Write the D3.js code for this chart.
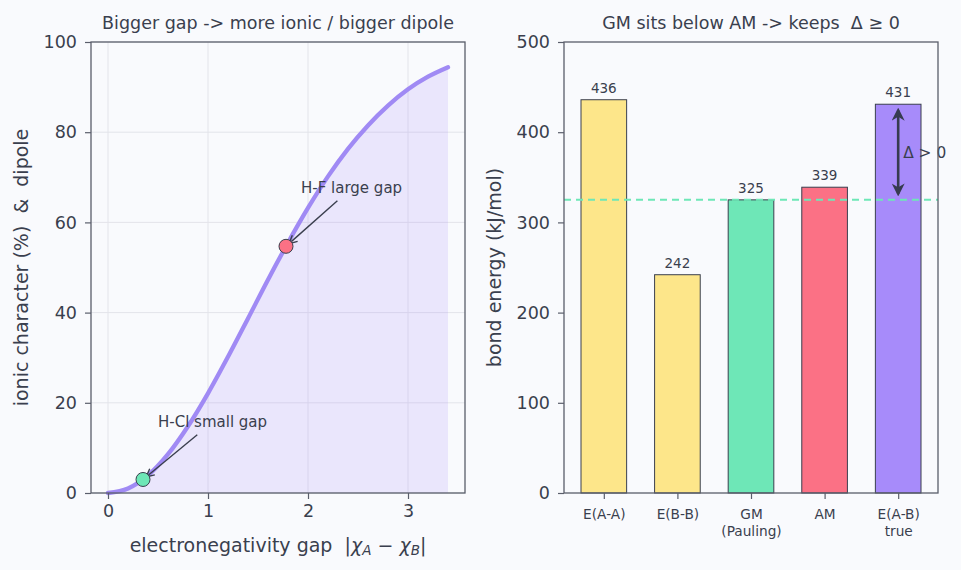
<!DOCTYPE html>
<html>
<head>
<meta charset="utf-8">
<script src="https://cdn.jsdelivr.net/npm/d3@7"></script>
<style>
  body { margin: 0; background: #f9fafd; }
  svg text { font-family: "DejaVu Sans", sans-serif; }
</style>
</head>
<body>
<div id="chart"></div>
<script>
// Left panel: ionic character curve
const gapX = [0, 0.2, 0.4, 0.6, 0.8, 1.0, 1.2, 1.4, 1.6, 1.8, 2.0, 2.2, 2.4, 2.6, 2.8, 3.0, 3.2, 3.4];
const ionicY = [0, 1.0, 3.9, 8.6, 14.8, 22.1, 30.2, 38.7, 47.3, 55.5, 63.2, 70.2, 76.3, 81.5, 85.9, 89.5, 92.3, 94.4];
const markers = [
  {name: 'H-Cl small gap', x: 0.35, y: 3.0, color: '#6ee7b7', tx: 0.5, ty: 15.8},
  {name: 'H-F large gap', x: 1.78, y: 54.7, color: '#fb7185', tx: 1.93, ty: 67.7}
];
const xTicksLeft = [0, 1, 2, 3];
const yTicksLeft = [0, 20, 40, 60, 80, 100];

// Right panel: bond energies
const barNames = ['E(A-A)', 'E(B-B)', 'GM\n(Pauling)', 'AM', 'E(A-B)\ntrue'];
const barValues = [436, 242, 325, 339, 431];
const barColors = ['#fde68a', '#fde68a', '#6ee7b7', '#fb7185', '#a78bfa'];
const gmLine = 325;
const yTicksRight = [0, 100, 200, 300, 400, 500];

const W = 961, H = 570;
const ink = '#3a3f4e', spine = '#5a5e6b';

const svg = d3.select('#chart').append('svg')
    .attr('width', W).attr('height', H);
svg.append('rect').attr('width', W).attr('height', H).attr('fill', '#f9fafd');

const defs = svg.append('defs');
defs.append('marker').attr('id', 'head')
    .attr('viewBox', '0 0 10 10').attr('refX', 9).attr('refY', 5)
    .attr('markerWidth', 10).attr('markerHeight', 10).attr('markerUnits', 'userSpaceOnUse')
    .attr('orient', 'auto-start-reverse')
  .append('path').attr('d', 'M1,1 L9,5 L1,9').attr('fill', 'none')
    .attr('stroke', ink).attr('stroke-width', 1.4);
defs.append('marker').attr('id', 'bighead')
    .attr('viewBox', '0 0 10 10').attr('refX', 8).attr('refY', 5)
    .attr('markerWidth', 13).attr('markerHeight', 13).attr('markerUnits', 'userSpaceOnUse')
    .attr('orient', 'auto-start-reverse')
  .append('path').attr('d', 'M0,0 L10,5 L0,10 L3,5 Z').attr('fill', '#363b50');

function styleAxis(g){
  g.selectAll('.domain').remove();
  g.selectAll('.tick line').attr('stroke', spine).attr('stroke-width', 1.2);
  g.selectAll('.tick text').attr('fill', ink).attr('font-size', 17.5);
}

// ---------- left panel ----------
const L = {left: 91, right: 465, top: 42, bottom: 493};
const x1 = d3.scaleLinear().domain([-0.17, 3.57]).range([L.left, L.right]);
const y1 = d3.scaleLinear().domain([0, 100]).range([L.bottom, L.top]);

const gl = svg.append('g');
// grid
gl.append('g').selectAll('line.vx').data(xTicksLeft).join('line')
    .attr('x1', d => x1(d)).attr('x2', d => x1(d)).attr('y1', L.top).attr('y2', L.bottom)
    .attr('stroke', '#e3e4ea').attr('stroke-width', 1);
gl.append('g').selectAll('line.hy').data(yTicksLeft).join('line')
    .attr('x1', L.left).attr('x2', L.right).attr('y1', d => y1(d)).attr('y2', d => y1(d))
    .attr('stroke', '#e3e4ea').attr('stroke-width', 1);

const pts = gapX.map((x, i) => [x, ionicY[i]]);
gl.append('path').datum(pts)
    .attr('d', d3.area().x(d => x1(d[0])).y0(y1(0)).y1(d => y1(d[1])).curve(d3.curveMonotoneX))
    .attr('fill', '#a78bfa').attr('fill-opacity', 0.18);
gl.append('path').datum(pts)
    .attr('d', d3.line().x(d => x1(d[0])).y(d => y1(d[1])).curve(d3.curveMonotoneX))
    .attr('fill', 'none').attr('stroke', '#a08af4').attr('stroke-width', 4.3).attr('stroke-linecap', 'round');

// annotations
markers.forEach(m => {
  const tx = x1(m.tx), ty = y1(m.ty);
  const t = gl.append('text').attr('x', tx).attr('y', ty + 5)
      .attr('fill', ink).attr('font-size', 15).text(m.name);
  const w = t.node().getComputedTextLength();
  const px = x1(m.x), py = y1(m.y);
  const sx = tx + w * 0.36, sy = ty + 13;
  const ang = Math.atan2(py - sy, px - sx);
  gl.append('line').attr('x1', sx).attr('y1', sy)
      .attr('x2', px - Math.cos(ang) * 4).attr('y2', py - Math.sin(ang) * 4)
      .attr('stroke', ink).attr('stroke-width', 1.4).attr('marker-end', 'url(#head)');
});
gl.selectAll('circle.pt').data(markers).join('circle')
    .attr('cx', d => x1(d.x)).attr('cy', d => y1(d.y)).attr('r', 7)
    .attr('fill', d => d.color).attr('stroke', '#3a3f4e').attr('stroke-width', 1);

// axes
gl.append('g').attr('transform', `translate(0,${L.bottom})`)
    .call(d3.axisBottom(x1).tickValues(xTicksLeft).tickSize(6).tickPadding(6).tickFormat(d3.format('d')))
    .call(styleAxis);
gl.append('g').attr('transform', `translate(${L.left},0)`)
    .call(d3.axisLeft(y1).tickValues(yTicksLeft).tickSize(6).tickPadding(8))
    .call(styleAxis);
gl.append('rect').attr('x', L.left).attr('y', L.top)
    .attr('width', L.right - L.left).attr('height', L.bottom - L.top)
    .attr('fill', 'none').attr('stroke', spine).attr('stroke-width', 1.3);

gl.append('text').attr('x', (L.left + L.right) / 2).attr('y', 29)
    .attr('text-anchor', 'middle').attr('fill', ink).attr('font-size', 17.5)
    .text('Bigger gap -> more ionic / bigger dipole');
const xl = gl.append('text').attr('x', (L.left + L.right) / 2).attr('y', 552)
    .attr('text-anchor', 'middle').attr('fill', ink).attr('font-size', 19)
    .attr('xml:space', 'preserve');
xl.append('tspan').text('electronegativity gap  |');
xl.append('tspan').attr('font-style', 'italic').text('χ');
xl.append('tspan').attr('font-style', 'italic').attr('font-size', 13.5).attr('dy', 3).text('A');
xl.append('tspan').attr('dy', -3).text(' − ');
xl.append('tspan').attr('font-style', 'italic').text('χ');
xl.append('tspan').attr('font-style', 'italic').attr('font-size', 13.5).attr('dy', 3).text('B');
xl.append('tspan').attr('dy', -3).text('|');
gl.append('text').attr('transform', `translate(28,${(L.top + L.bottom) / 2}) rotate(-90)`)
    .attr('text-anchor', 'middle').attr('fill', ink).attr('font-size', 19)
    .attr('xml:space', 'preserve')
    .text('ionic character (%)  &  dipole');

// ---------- right panel ----------
const R = {left: 564, right: 938, top: 42, bottom: 493};
const x2 = d3.scaleLinear().domain([-0.541, 4.541]).range([R.left, R.right]);
const y2 = d3.scaleLinear().domain([0, 500]).range([R.bottom, R.top]);
const bw = x2(0.62) - x2(0);

const gr = svg.append('g');
gr.selectAll('rect.bar').data(barValues).join('rect')
    .attr('x', (d, i) => x2(i) - bw / 2).attr('y', d => y2(d))
    .attr('width', bw).attr('height', d => y2(0) - y2(d))
    .attr('fill', (d, i) => barColors[i]).attr('stroke', '#3a3f4e').attr('stroke-width', 1);
gr.selectAll('text.val').data(barValues).join('text')
    .attr('x', (d, i) => x2(i)).attr('y', d => y2(d) - 7)
    .attr('text-anchor', 'middle').attr('fill', ink).attr('font-size', 13.5)
    .text(d => d);

gr.append('line').attr('x1', R.left).attr('x2', R.right)
    .attr('y1', y2(gmLine)).attr('y2', y2(gmLine))
    .attr('stroke', '#6ee7b7').attr('stroke-width', 2).attr('stroke-dasharray', '7,5');

// delta arrow on the true bar
gr.append('line').attr('x1', x2(4)).attr('x2', x2(4))
    .attr('y1', y2(barValues[4]) + 6).attr('y2', y2(gmLine) - 6)
    .attr('stroke', '#363b50').attr('stroke-width', 2.6)
    .attr('marker-start', 'url(#bighead)').attr('marker-end', 'url(#bighead)');
gr.append('text').attr('x', x2(4) + 5).attr('y', y2((barValues[4] + gmLine) / 2) + 6)
    .attr('fill', ink).attr('font-size', 15.4).attr('xml:space', 'preserve').text('Δ > 0');

const xa = gr.append('g').attr('transform', `translate(0,${R.bottom})`)
    .call(d3.axisBottom(x2).tickValues(d3.range(barNames.length)).tickSize(6).tickPadding(5).tickFormat(''))
    .call(styleAxis);
xa.selectAll('.tick').append('text')
    .attr('fill', ink).attr('font-size', 13.7).attr('text-anchor', 'middle')
    .selectAll('tspan').data(i => barNames[i].split('\n')).join('tspan')
    .attr('x', 0).attr('y', (d, j) => 26 + j * 17).text(d => d);
gr.append('g').attr('transform', `translate(${R.left},0)`)
    .call(d3.axisLeft(y2).tickValues(yTicksRight).tickSize(6).tickPadding(8))
    .call(styleAxis);
gr.append('rect').attr('x', R.left).attr('y', R.top)
    .attr('width', R.right - R.left).attr('height', R.bottom - R.top)
    .attr('fill', 'none').attr('stroke', spine).attr('stroke-width', 1.3);

gr.append('text').attr('x', (R.left + R.right) / 2).attr('y', 29)
    .attr('text-anchor', 'middle').attr('fill', ink).attr('font-size', 17.5)
    .attr('xml:space', 'preserve')
    .text('GM sits below AM -> keeps  Δ ≥ 0');
gr.append('text').attr('transform', `translate(501,${(R.top + R.bottom) / 2}) rotate(-90)`)
    .attr('text-anchor', 'middle').attr('fill', ink).attr('font-size', 19)
    .text('bond energy (kJ/mol)');
</script>
</body>
</html>
